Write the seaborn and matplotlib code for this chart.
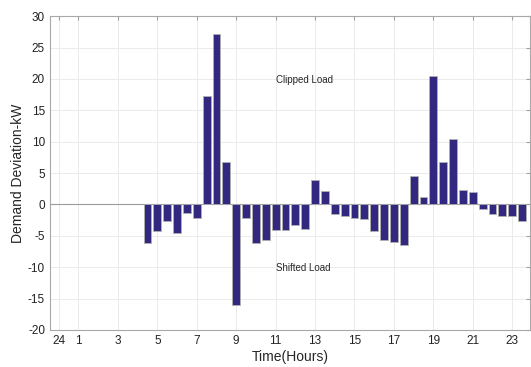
import numpy as np
import pandas as pd
import matplotlib
matplotlib.use('Agg')
import matplotlib.pyplot as plt
import seaborn as sns

# half-hour slots from 4:30 to 23:30
hours = [4.5, 5.0, 5.5, 6.0, 6.5, 7.0, 7.5, 8.0, 8.5, 9.0, 9.5, 10.0, 10.5,
         11.0, 11.5, 12.0, 12.5, 13.0, 13.5, 14.0, 14.5, 15.0, 15.5, 16.0,
         16.5, 17.0, 17.5, 18.0, 18.5, 19.0, 19.5, 20.0, 20.5, 21.0, 21.5,
         22.0, 22.5, 23.0, 23.5]
deviation = [-6.2, -4.2, -2.7, -4.5, -1.4, -2.2, 17.3, 27.2, 6.7, -16.1, -2.2,
             -6.2, -5.6, -4.0, -4.1, -3.3, -3.9, 3.9, 2.2, -1.6, -1.9, -2.1,
             -2.3, -4.3, -5.6, -6.0, -6.4, 4.5, 1.2, 20.4, 6.8, 10.4, 2.3,
             2.0, -0.8, -1.6, -1.9, -1.8, -2.6]

tick_pos = [0, 1, 3, 5, 7, 9, 11, 13, 15, 17, 19, 21, 23]
tick_labels = ['24', '1', '3', '5', '7', '9', '11', '13', '15', '17', '19', '21', '23']

df = pd.DataFrame({'hour': hours, 'dev': deviation})

sns.set_style('white')
plt.rcParams['font.family'] = ['Liberation Sans', 'DejaVu Sans']
plt.rcParams['axes.unicode_minus'] = False

fig = plt.figure(figsize=(5.31, 3.67), dpi=100)
ax = fig.add_axes([0.094, 0.101, 0.904, 0.855])

ax.axhline(0, color='#9a9a9a', lw=0.8, zorder=1)
sns.barplot(data=df, x='hour', y='dev', native_scale=True, color='#32287f',
            saturation=1, edgecolor='#b0b0b0', linewidth=0.6, width=0.8, ax=ax, zorder=2)

ax.set_xlim(-0.45, 23.9)
ax.set_ylim(-20, 30)
ax.set_xticks(tick_pos)
ax.set_xticklabels(tick_labels)
ax.set_yticks(np.arange(-20, 31, 5))
ax.grid(True, color='#ebebeb', lw=0.7)
ax.set_axisbelow(True)
ax.tick_params(direction='in', length=3, color='#a0a0a0', labelsize=8.5,
               top=True, right=True, labelcolor='#222222')
for s in ax.spines.values():
    s.set_color('#a8a8a8')
    s.set_linewidth(0.8)

ax.set_xlabel('Time(Hours)', fontsize=10, labelpad=2)
ax.set_ylabel('Demand Deviation-kW', fontsize=10, labelpad=2)

ax.text(11.0, 19.8, 'Clipped Load', fontsize=7, va='center', ha='left')
ax.text(11.0, -10.2, 'Shifted Load', fontsize=7, va='center', ha='left')

plt.savefig('out.png', dpi=100)
